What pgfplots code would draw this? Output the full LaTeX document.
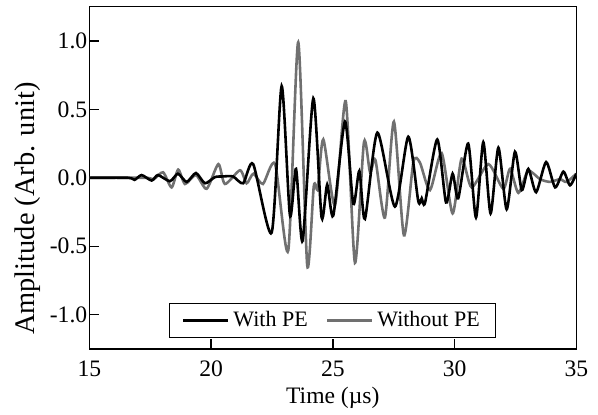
\documentclass[border=0pt]{standalone}
\usepackage{fontspec}
\setmainfont{Liberation Serif}
\usepackage{pgfplots}
\pgfplotsset{compat=1.18}
\definecolor{wpe}{RGB}{0,0,0}
\definecolor{nope}{RGB}{112,112,112}

\begin{document}
\begin{tikzpicture}
\begin{axis}[scale only axis, width=243.5pt, height=171.2pt,
  xmin=15, xmax=35, ymin=-1.25, ymax=1.25,
  xtick={15,20,25,30,35}, xticklabels={15,20,25,30,35},
  ytick={-1,-0.5,0,0.5,1}, yticklabels={-1.0,-0.5,0.0,0.5,1.0},
  tick align=inside, xtick pos=bottom, ytick pos=left,
  major tick length=5pt, every tick/.style={black, line width=0.7pt},
  axis line style={line width=0.8pt},
  tick label style={font=\fontsize{11.8}{13}\selectfont},
  xticklabel style={yshift=-2.5pt},
  yticklabel style={xshift=2.5pt},
  legend columns=2, reverse legend,
  legend style={at={(0.5,0.032)}, anchor=south, draw=black, line width=0.6pt,
    font=\fontsize{11}{13}\selectfont, inner xsep=6pt, inner ysep=2pt,
    /tikz/every even column/.append style={column sep=7pt}},
  legend image code/.code={\draw[#1, line width=1.3pt] (0pt,0pt) -- (22.5pt,0pt);},
  every axis plot/.append style={smooth, tension=0.42, line width=1.3pt},
]
% without PE (gray), drawn first
\addplot[nope] coordinates {
(15,0) (17.3,0) (17.65,-0.01) (18.03,0.04) (18.38,-0.07) (18.65,0.06) (18.93,-0.045)
(19.38,0.02) (19.82,-0.08) (20.30,0.10) (20.57,-0.045) (21.19,0.055) (21.46,-0.04)
(21.74,0.03) (22.13,-0.045) (22.63,0.10) (23.17,-0.53) (23.58,0.99) (23.95,-0.64)
(24.22,-0.06) (24.38,-0.08) (24.61,0.28) (25.09,-0.20) (25.53,0.56) (25.91,-0.62)
(26.28,0.26) (26.53,0.04) (26.75,0.13) (27.14,-0.29) (27.51,0.41) (27.92,-0.42)
(28.31,0.115) (28.58,0.11) (28.99,-0.09) (29.47,0.18) (29.92,-0.26) (30.29,0.14)
(30.70,-0.07) (31.39,0.10) (32.00,-0.08) (32.28,0.065) (32.62,-0.11) (33.02,0.05)
(33.51,-0.01) (33.92,-0.03) (34.33,-0.01) (34.6,-0.03) (35,0.03)};
\addlegendentry{Without PE}
% with PE (black)
\addplot[wpe] coordinates {
(15,0) (16.6,0) (16.86,-0.015) (17.15,0.02) (17.56,-0.02) (17.82,0.02) (18.31,-0.025)
(18.64,0.03) (19.00,-0.03) (19.38,0.035) (19.75,-0.04) (20.16,0.005) (20.5,0.01)
(20.9,0.01) (21.32,-0.04) (21.73,0.10) (22.49,-0.40) (22.90,0.67) (23.24,-0.275)
(23.49,0.065) (23.76,-0.46) (24.20,0.58) (24.54,-0.29) (24.77,-0.05) (25.02,-0.275)
(25.50,0.41) (25.84,-0.19) (26.09,0.05) (26.32,-0.30) (26.83,0.33) (27.55,-0.21)
(28.10,0.30) (28.51,-0.17) (28.65,-0.15) (28.79,-0.18) (29.29,0.28) (29.65,-0.18)
(29.92,0.03) (30.15,-0.15) (30.56,0.25) (30.88,-0.29) (31.18,0.26) (31.48,-0.26)
(31.80,0.22) (32.14,-0.23) (32.48,0.19) (32.76,-0.09) (33.03,0.065) (33.35,-0.105)
(33.76,0.115) (34.13,-0.07) (34.47,0.045) (34.74,-0.055) (35,0.03)};
\addlegendentry{With PE}
\coordinate (sw) at (rel axis cs:0,0);
\coordinate (yl) at (rel axis cs:0,0.41);
\coordinate (xl) at (rel axis cs:0.5,0);
\end{axis}
\node[rotate=90, font=\fontsize{14.2}{16}\selectfont] at ([xshift=-31pt]yl) {Amplitude (Arb. unit)};
\node[anchor=base, font=\fontsize{11.8}{13}\selectfont] at ([yshift=-27pt]xl) {Time (µs)};
\pgfresetboundingbox
\path[use as bounding box] ([shift={(-44.65pt,-32.5pt)}]sw) rectangle ([shift={(254.35pt,174.5pt)}]sw);
\end{tikzpicture}
\end{document}
